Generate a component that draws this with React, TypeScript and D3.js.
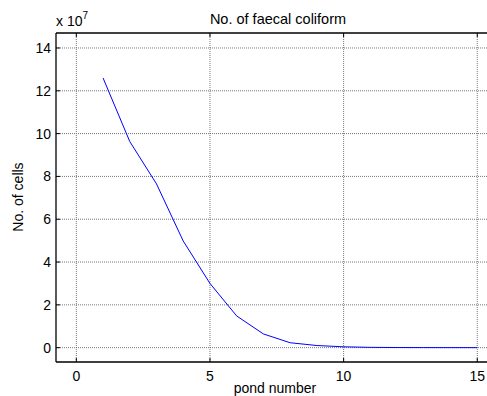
import React from "react";
import * as d3 from "d3";

const pondNumbers = [1, 2, 3, 4, 5, 6, 7, 8, 9, 10, 11, 12, 13, 14, 15];
const cellsE7 = [12.6, 9.63, 7.65, 4.98, 3.0, 1.48, 0.64, 0.23, 0.1, 0.04, 0.015, 0.006, 0.003, 0.001, 0.0005];
const xTicks = [0, 5, 10, 15];
const yTicks = [0, 2, 4, 6, 8, 10, 12, 14];
const titleText = "No. of faecal coliform";
const xLabel = "pond number";
const yLabel = "No. of cells";

const W = 487;
const H = 396;
const L = 56;
const R = 500;
const T = 33;
const B = 362;

export default function App() {
  const x = d3.scaleLinear().domain([-0.76, 15.85]).range([L, R]);
  const y = d3.scaleLinear().domain([-0.67, 14.7]).range([B, T]);
  const line = d3
    .line<number>()
    .x((_, i) => x(pondNumbers[i]))
    .y((d) => y(d));
  const font = "Liberation Sans, Arial, sans-serif";
  return (
    <svg
      width={W}
      height={H}
      style={{ position: "absolute", left: 0, top: 0, background: "#fff" }}
      fontFamily={font}
    >
      <rect x={0} y={0} width={W} height={H} fill="#fff" />
      {/* grid */}
      {xTicks.map((t) => (
        <line key={"gx" + t} x1={x(t)} x2={x(t)} y1={T} y2={B} stroke="#777" strokeWidth={1} strokeDasharray="1,1" />
      ))}
      {yTicks.map((t) => (
        <line key={"gy" + t} x1={L} x2={R} y1={y(t)} y2={y(t)} stroke="#777" strokeWidth={1} strokeDasharray="1,1" />
      ))}
      {/* ticks */}
      {xTicks.map((t) => (
        <g key={"tx" + t}>
          <line x1={x(t)} x2={x(t)} y1={B} y2={B - 4} stroke="#000" />
          <line x1={x(t)} x2={x(t)} y1={T} y2={T + 4} stroke="#000" />
        </g>
      ))}
      {yTicks.map((t) => (
        <line key={"ty" + t} x1={L} x2={L + 4} y1={y(t)} y2={y(t)} stroke="#000" />
      ))}
      {/* data */}
      <path d={line(cellsE7) || ""} fill="none" stroke="#0000ff" strokeWidth={1} />
      {/* box */}
      <line x1={L} x2={R} y1={T} y2={T} stroke="#000" strokeWidth={1.3} />
      <line x1={L} x2={R} y1={B} y2={B} stroke="#000" strokeWidth={1.3} />
      <line x1={L} x2={L} y1={T} y2={B} stroke="#000" strokeWidth={1.3} />
      {/* tick labels */}
      {xTicks.map((t) => (
        <text key={"lx" + t} x={x(t)} y={381} textAnchor="middle" fontSize={14} fill="#000">
          {t}
        </text>
      ))}
      {yTicks.map((t) => (
        <text key={"ly" + t} x={51} y={y(t) + 5} textAnchor="end" fontSize={14} fill="#000">
          {t}
        </text>
      ))}
      <text x={56} y={26} fontSize={14} fill="#000">
        x 10
        <tspan dy={-7} fontSize={10}>7</tspan>
      </text>
      <text x={278} y={24} textAnchor="middle" fontSize={14.5} fill="#000">
        {titleText}
      </text>
      <text x={275} y={392.5} textAnchor="middle" fontSize={14} fill="#000">
        {xLabel}
      </text>
      <text
        transform={`translate(23,197) rotate(-90)`}
        textAnchor="middle"
        fontSize={14}
        fill="#000"
      >
        {yLabel}
      </text>
    </svg>
  );
}
